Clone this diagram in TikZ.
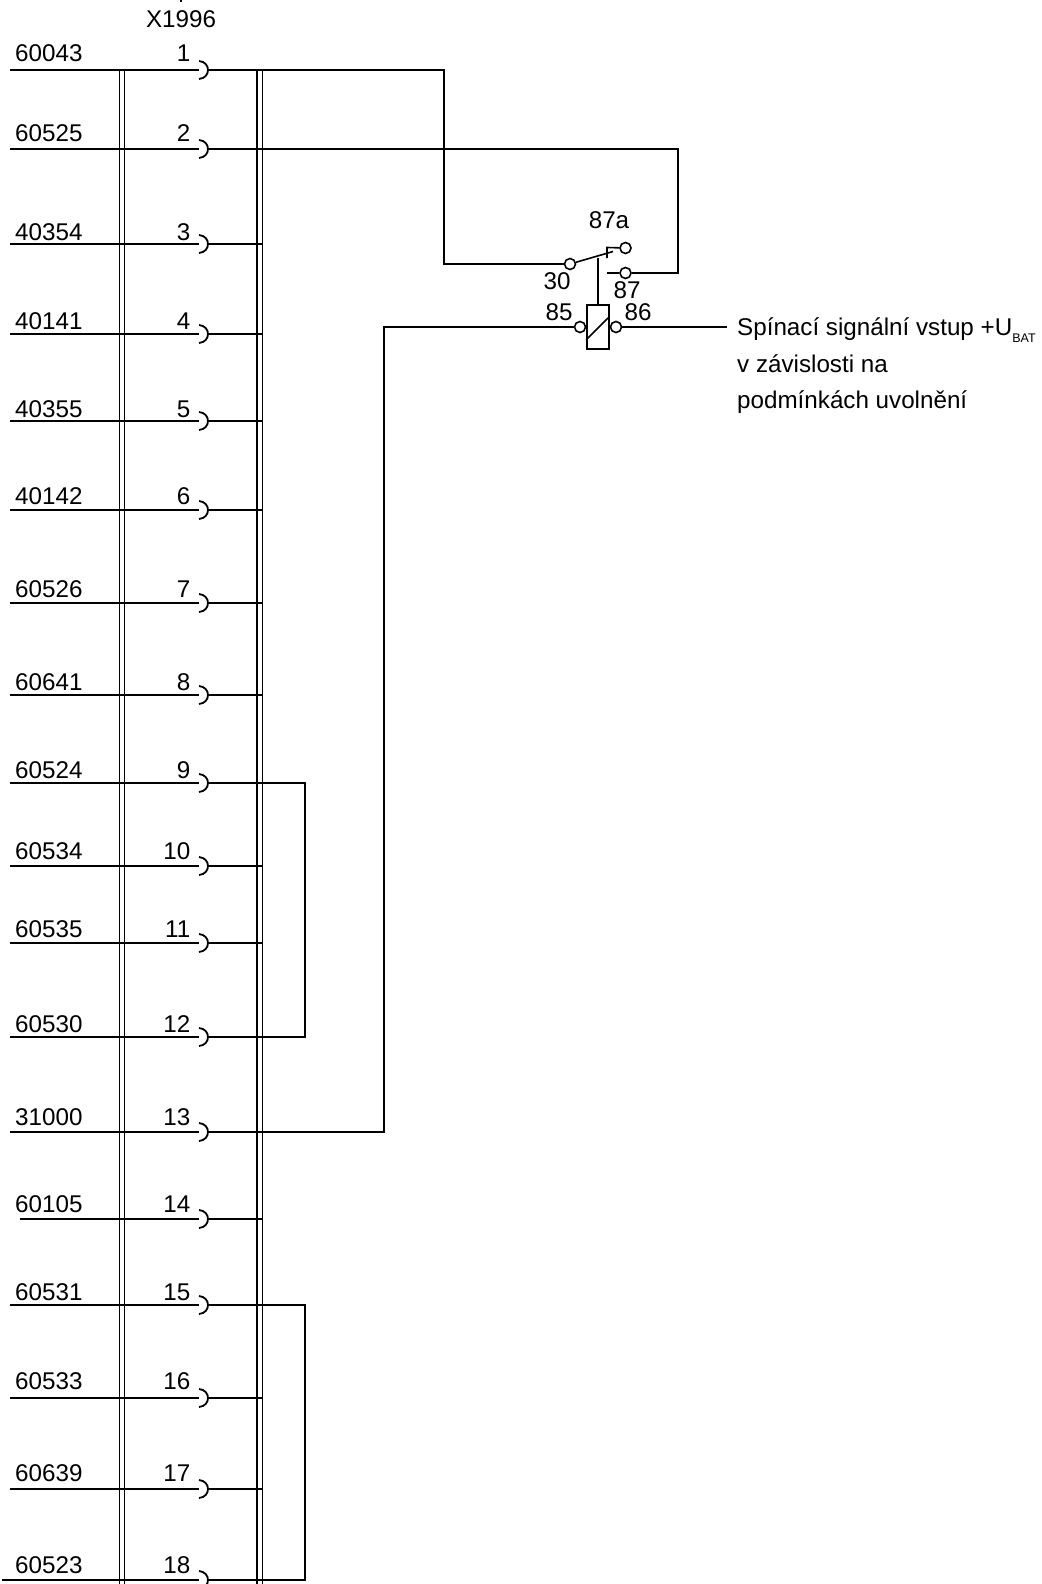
\documentclass[tikz,border=0pt]{standalone}
\usepackage{fontspec}
\setmainfont{Liberation Sans}
\tikzset{
	wire/.style={line width=1.8pt},
	thinwire/.style={line width=1.6pt},
	lbl/.style={inner sep=0pt, anchor=base west, font=\fontsize{24.2}{28}\selectfont},
	pin/.style={inner sep=0pt, anchor=base east, font=\fontsize{24.2}{28}\selectfont},
	mid/.style={inner sep=0pt, anchor=base, font=\fontsize{24.2}{28}\selectfont},
	term/.style={circle, draw, line width=1.6pt, inner sep=0pt, minimum size=11pt, fill=white},
	relay/.style={rectangle, draw, line width=1.7pt, inner sep=0pt, minimum width=22pt, minimum height=44pt}
}
\begin{document}
\begin{tikzpicture}[x=1pt,y=-1pt]
	\useasboundingbox (0,0) rectangle (1041,1584);
	% busbars
	\coordinate (busa) at (119.5,70);
	\coordinate (busb) at (124.5,70);
	\coordinate (busc) at (257,70);
	\coordinate (busd) at (262.5,70);
	\draw [thinwire] (busa) -- (busa |- 0,1584);
	\draw [thinwire] (busb) -- (busb |- 0,1584);
	\draw [thinwire] (busc) -- (busc |- 0,1584);
	\draw [thinwire] (busd) -- (busd |- 0,1584);
	% connector rows: number / wire y / text baseline / wire name / wire start
	\foreach \n/\y/\b/\w/\s in {
		1/70/62/60043/10, 2/149/142/60525/10, 3/244/240/40354/10,
		4/334/329/40141/10, 5/421/417/40355/10, 6/510/504/40142/10,
		7/603/597/60526/10, 8/695/690/60641/10, 9/783/778/60524/10,
		10/866/859/60534/10, 11/943/937/60535/10, 12/1037/1032/60530/10,
		13/1132/1125/31000/10, 14/1219/1212/60105/20, 15/1305/1300/60531/10,
		16/1398/1389/60533/10, 17/1489/1481/60639/10, 18/1580/1573/60523/2} {
		\coordinate (in\n) at (\s,\y);
		\coordinate (con\n) at (199,\y);
		\coordinate (out\n) at (208,\y);
		\coordinate (end\n) at (262.5,\y);
		\node (wire\n) [lbl] at (15,\b) {\w};
		\node (num\n) [pin] at (190.5,\b) {\n};
		\draw [wire] (in\n) -- (con\n);
		\draw [wire] (out\n) -- (end\n);
		\draw [wire] (199,\y-9) .. controls (211,\y-8) and (211,\y+8) .. (199,\y+9);
	}
	\coordinate (tick) at (181,0);
	\node (plug) [mid] at (181,28) {X1996};
	\draw [thinwire] (tick) -- ++(0,2);
	% relay
	\node (coil) [relay] at (598,327) {};
	\node (t30) [term] at (570,264) {};
	\node (t87a) [term] at (625.5,248) {};
	\node (t87) [term] at (625.5,273) {};
	\node (t85) [term] at (580,327) {};
	\node (t86) [term] at (616,327) {};
	\coordinate (blade) at (613,251.5);
	\coordinate (stop) at (607,247.5);
	\coordinate (stub) at (606.5,273);
	\draw [thinwire] (t30) -- (blade);
	\draw [thinwire] (598,257.5) -- (coil.north);
	\draw [thinwire] (607,258) -- (stop) -- (t87a);
	\draw [thinwire] (stub) -- (t87);
	\draw [thinwire] (coil.south west) ++(0,-10) -- ++(22,-22);
	\node (l87a) [mid] at (609,228) {87a};
	\node (l30) [mid] at (557,289) {30};
	\node (l87) [mid] at (627,298) {87};
	\node (l85) [mid] at (559,320) {85};
	\node (l86) [mid] at (638,320) {86};
	% wiring to the relay
	\coordinate (feed) at (444,70);
	\coordinate (ret) at (678,149);
	\coordinate (gnd) at (384,1132);
	\coordinate (sig) at (727,327);
	\draw [wire] (end1) -- (feed) |- (t30);
	\draw [wire] (end2) -- (ret) |- (t87);
	\draw [wire] (end13) -- (gnd) |- (t85);
	\draw [wire] (t86) -- (sig);
	% jumpers
	\coordinate (ja) at (305,783);
	\coordinate (jb) at (305,1305);
	\draw [wire] (end9) -- (ja) |- (end12);
	\draw [wire] (end15) -- (jb) |- (end18);
	\node (sign) [lbl] at (737,335) {Spínací signální vstup +U\raisebox{-7pt}{\fontsize{12.5}{13}\selectfont BAT}};
	\node (cond) [lbl] at (737,372) {v závislosti na};
	\node (rel) [lbl] at (737,408) {podmínkách uvolnění};
\end{tikzpicture}
\end{document}
